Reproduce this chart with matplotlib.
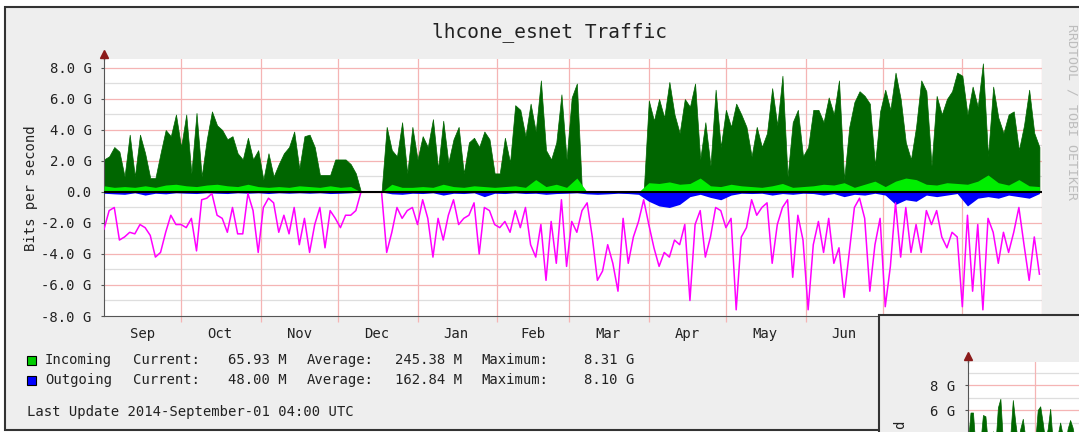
import numpy as np
import matplotlib
matplotlib.use('Agg')
import matplotlib.pyplot as plt
import matplotlib.dates as mdates
from matplotlib.patches import Rectangle

W, H = 1079, 432
MONO = 'DejaVu Sans Mono'
RED_GRID = '#f5b4b4'
GRAY_GRID = '#dedede'
TXT = '#222222'

# ---- data (Gbit/s) ----
start = np.datetime64('2013-09-01')
days2 = start + np.arange(0, 366, 2).astype('timedelta64[D]')   # 2-day steps
days4 = start + np.arange(0, 366, 4).astype('timedelta64[D]')   # 4-day steps

# incoming, peak (dark green area)
in_max = [2.1, 2.3, 2.9, 2.6, 1.0, 3.7, 1.0, 3.7, 2.5, 0.9,
          0.9, 2.5, 4.0, 3.6, 5.0, 2.9, 5.0, 1.2, 5.1, 1.0,
          3.4, 5.2, 4.3, 4.0, 3.4, 3.6, 2.5, 2.1, 3.5, 2.1,
          2.7, 0.8, 2.5, 1.0, 1.8, 2.5, 2.9, 3.9, 1.5, 3.6,
          3.7, 2.9, 1.1, 1.1, 1.1, 2.1, 2.1, 2.1, 1.8, 1.2,
          0, 0, 0, 0, 0, 4.2, 2.7, 2.3, 4.5, 1.2,
          4.2, 2.1, 3.6, 2.9, 4.7, 1.5, 4.6, 1.9, 3.4, 4.2,
          1.2, 3.2, 3.5, 2.9, 3.9, 3.4, 1.2, 1.2, 3.5, 1.9,
          5.6, 5.3, 3.6, 5.7, 3.9, 7.2, 2.7, 2.1, 3.2, 6.3,
          2.1, 6.1, 7.0, 0, 0, 0, 0, 0, 0, 0,
          0, 0, 0, 0, 0, 0, 5.9, 4.6, 6.0, 4.8,
          7.1, 5.0, 3.8, 6.0, 5.5, 7.0, 2.1, 4.5, 1.7, 6.6,
          2.9, 5.3, 4.2, 5.7, 5.0, 4.2, 2.3, 4.2, 2.9, 3.8,
          6.7, 4.3, 7.5, 1.0, 4.5, 5.3, 2.3, 2.9, 5.3, 5.3,
          4.5, 6.1, 5.0, 7.2, 0.8, 4.2, 5.8, 6.5, 6.2, 5.7,
          1.7, 5.2, 6.6, 5.3, 7.7, 6.0, 3.2, 2.1, 4.2, 7.2,
          6.5, 1.7, 6.2, 5.0, 6.0, 6.5, 7.7, 7.5, 5.0, 6.8,
          5.5, 8.3, 2.3, 6.8, 4.8, 3.8, 5.0, 5.2, 2.7, 4.3,
          6.6, 3.8, 2.9]

# outgoing, peak (magenta line, drawn negative)
out_max = [-2.4, -1.2, -1.0, -3.1, -2.9, -2.6, -2.7, -2.1, -2.3, -2.8,
           -4.2, -3.9, -2.6, -1.5, -2.1, -2.1, -2.3, -1.7, -3.8, -0.5,
           -0.4, -0.1, -1.5, -1.7, -2.6, -1.0, -2.7, -2.7, -0.1, -1.2,
           -3.9, -1.0, -0.4, -0.7, -2.6, -1.5, -2.7, -1.0, -3.4, -1.7,
           -3.9, -2.1, -1.0, -3.6, -1.2, -1.7, -2.3, -1.5, -1.5, -1.2,
           0, 0, 0, 0, 0, -3.9, -2.6, -1.0, -1.7, -1.2,
           -1.0, -2.1, -0.5, -1.7, -4.2, -1.7, -3.1, -1.5, -0.5, -2.1,
           -1.7, -1.5, -0.7, -4.0, -1.0, -1.2, -2.1, -2.3, -1.9, -2.6,
           -1.2, -2.3, -1.0, -3.4, -4.2, -2.1, -5.7, -1.9, -4.6, -0.5,
           -4.8, -1.9, -2.6, -1.2, -0.7, -2.9, -5.7, -5.1, -3.4, -4.6,
           -6.4, -1.7, -4.6, -2.9, -1.9, -0.5, -2.1, -3.6, -4.8, -3.9,
           -4.2, -3.1, -3.4, -2.1, -7.0, -2.1, -1.2, -4.2, -2.9, -1.0,
           -1.2, -2.3, -1.7, -7.6, -2.9, -2.3, -0.5, -1.5, -1.0, -0.7,
           -4.6, -2.1, -1.0, -0.5, -5.5, -1.5, -3.1, -7.6, -3.4, -1.9,
           -3.9, -1.7, -4.6, -3.6, -6.8, -3.9, -1.0, -0.4, -1.7, -6.4,
           -3.4, -1.7, -7.4, -4.8, -0.7, -4.2, -1.0, -3.9, -2.1, -3.9,
           -1.2, -2.1, -1.2, -2.9, -3.6, -2.6, -2.9, -7.4, -1.5, -6.4,
           -2.1, -7.6, -1.7, -2.6, -4.6, -2.6, -3.9, -2.6, -1.0, -3.4,
           -5.7, -2.9, -5.3]

# incoming, average (bright green area)
in_avg = [0.4, 0.3, 0.35, 0.3, 0.4, 0.3, 0.45, 0.5, 0.4, 0.35,
          0.45, 0.5, 0.4, 0.35, 0.5, 0.35, 0.3, 0.35, 0.3, 0.4,
          0.35, 0.3, 0.4, 0.3, 0.35, 0, 0, 0, 0.5, 0.3,
          0.3, 0.35, 0.3, 0.5, 0.35, 0.3, 0.4, 0.35, 0.3, 0.35,
          0.4, 0.3, 0.8, 0.35, 0.5, 0.3, 0.9, 0, 0, 0,
          0, 0, 0, 0.6, 0.55, 0.65, 0.5, 0.55, 0.9, 0.4,
          0.35, 0.5, 0.4, 0.35, 0.3, 0.4, 0.55, 0.3, 0.35, 0.4,
          0.5, 0.45, 0.6, 0.3, 0.5, 0.7, 0.35, 0.7, 0.9, 0.8,
          0.5, 0.45, 0.6, 0.55, 0.5, 0.7, 1.1, 0.6, 0.45, 0.8,
          0.4, 0.35]

# outgoing, average (blue area, negative)
out_avg = [-0.08, -0.12, -0.15, -0.05, -0.2, -0.08, -0.12, -0.05, -0.08, -0.1,
           -0.05, -0.08, -0.1, -0.05, -0.08, -0.05, -0.1, -0.05, -0.08, -0.05,
           -0.08, -0.05, -0.1, -0.08, -0.05, 0, 0, 0, -0.12, -0.15,
           -0.08, -0.1, -0.05, -0.2, -0.08, -0.1, -0.05, -0.3, -0.08, -0.1,
           -0.05, -0.1, -0.08, -0.15, -0.1, -0.08, -0.05, -0.12, -0.15, -0.12,
           -0.08, -0.1, -0.15, -0.6, -0.9, -1.0, -0.8, -0.3, -0.15, -0.35,
           -0.5, -0.2, -0.08, -0.1, -0.08, -0.2, -0.1, -0.15, -0.08, -0.1,
           -0.2, -0.1, -0.3, -0.15, -0.2, -0.08, -0.2, -0.8, -0.5, -0.6,
           -0.2, -0.3, -0.2, -0.1, -0.9, -0.4, -0.3, -0.4, -0.2, -0.3,
           -0.4, -0.1]

month_labels = ['Sep', 'Oct', 'Nov', 'Dec', 'Jan', 'Feb', 'Mar',
                'Apr', 'May', 'Jun', 'Jul', 'Aug']
y_ticks = [8, 6, 4, 2, 0, -2, -4, -6, -8]
y_tick_labels = ['8.0 G', '6.0 G', '4.0 G', '2.0 G', '0.0',
                 '-2.0 G', '-4.0 G', '-6.0 G', '-8.0 G']

legend_rows = [
    ('Incoming', '#00cc00', '65.93 M', '245.38 M', '8.31 G'),
    ('Outgoing', '#0000ff', '48.00 M', '162.84 M', '8.10 G'),
]

# second graph peeking in at the bottom right corner
inset_steps = np.arange(46)
inset_vals = [3.5, 5.8, 5.8, 3.0, 3.0, 3.5, 5.6, 5.5, 3.2, 3.0,
              4.3, 3.2, 6.2, 6.9, 3.5, 3.0, 3.0, 4.0, 6.8, 5.0,
              3.5, 4.5, 5.3, 3.8, 3.0, 3.5, 3.0, 3.5, 6.0, 6.3,
              5.0, 3.5, 4.5, 6.1, 3.5, 3.0, 4.0, 5.0, 4.0, 3.0,
              4.5, 5.2, 4.6, 3.5, 3.8, 4.0]


def fx(x):
    return x / W


def fy(y):
    return 1 - y / H


fig = plt.figure(figsize=(W / 100, H / 100), dpi=100)
fig.patch.set_facecolor('white')

# rrd canvas
fig.add_artist(Rectangle((fx(5), fy(430)), fx(1095) - fx(5), fy(7) - fy(430),
                         transform=fig.transFigure, facecolor='#eeeeee',
                         edgecolor='#333333', lw=1.5, zorder=-1))

ax = fig.add_axes([fx(104), fy(316), (1042 - 104) / W, (316 - 59) / H])
ax.set_facecolor('white')

ax.fill_between(days2, 0, in_max, color='#006600', lw=0.5, zorder=2)
ax.fill_between(days4, 0, in_avg, color='#00ee00', lw=0, zorder=3)
ax.fill_between(days4, 0, out_avg, color='#0000ff', lw=0, zorder=3)
ax.plot(days2, out_max, color='#ff00ff', lw=1.1, zorder=4)
ax.axhline(0, color='black', lw=1.5, zorder=5)

for v in range(-7, 9):
    ax.axhline(v, color=RED_GRID if v % 2 == 0 else GRAY_GRID, lw=0.9, zorder=1)

month_starts = np.arange('2013-09', '2014-10', dtype='datetime64[M]').astype('datetime64[D]')
month_mids = month_starts[:-1] + np.diff(month_starts) // 2
for d in month_starts[1:]:
    ax.axvline(d, color=RED_GRID, lw=0.9, zorder=1)

ax.set_xlim(month_starts[0], month_starts[-1])
ax.set_ylim(-8, 8.58)

ax.set_xticks(mdates.date2num(month_starts[1:]))
ax.set_xticklabels([])
ax.tick_params(axis='x', which='major', length=4, color=RED_GRID, width=0.9)
ax.set_xticks(mdates.date2num(month_mids), labels=month_labels, minor=True)
ax.tick_params(axis='x', which='minor', length=0, pad=8, labelsize=10, labelcolor=TXT)
for lab in ax.get_xticklabels(minor=True):
    lab.set_family(MONO)

ax.set_yticks(y_ticks, labels=y_tick_labels)
ax.tick_params(axis='y', length=2, pad=7, labelsize=10, labelcolor=TXT, color='#555555')
for lab in ax.get_yticklabels():
    lab.set_family(MONO)

for s in ['top', 'right']:
    ax.spines[s].set_visible(False)
ax.spines['left'].set_color('#555555')
ax.spines['bottom'].set_color('#555555')
ax.plot([0, 0], [1, 1.025], transform=ax.transAxes, clip_on=False, color='#555555', lw=1)
ax.plot([0], [1.02], transform=ax.transAxes, clip_on=False, marker='^',
        color='#8b1a1a', markersize=5.5, zorder=6)

# texts
fig.text(fx(550), fy(32), 'lhcone_esnet Traffic', ha='center', va='center',
         fontsize=14, family=MONO, color=TXT)
fig.text(fx(31), fy(188), 'Bits per second', rotation=90, ha='center', va='center',
         fontsize=10, family=MONO, color=TXT)
fig.text(fx(1072), fy(112), 'RRDTOOL / TOBI OETIKER', rotation=-90, ha='center',
         va='center', fontsize=9.5, family=MONO, color='#bdbdbd')

for i, (name, col, cur, avg, mx) in enumerate(legend_rows):
    yc = 360 + 20 * i
    fig.add_artist(Rectangle((fx(27), fy(yc + 4.5)), 9 / W, 9 / H, transform=fig.transFigure,
                             facecolor=col, edgecolor='black', lw=0.8))
    kw = dict(va='center', fontsize=10, family=MONO, color=TXT)
    fig.text(fx(45), fy(yc), name, ha='left', **kw)
    fig.text(fx(133), fy(yc), 'Current:', ha='left', **kw)
    fig.text(fx(287), fy(yc), cur, ha='right', **kw)
    fig.text(fx(307), fy(yc), 'Average:', ha='left', **kw)
    fig.text(fx(462), fy(yc), avg, ha='right', **kw)
    fig.text(fx(481), fy(yc), 'Maximum:', ha='left', **kw)
    fig.text(fx(634), fy(yc), mx, ha='right', **kw)

fig.text(fx(27), fy(412), 'Last Update 2014-September-01 04:00 UTC', ha='left', va='center',
         fontsize=10, family=MONO, color=TXT)

# overlapping second graph (bottom right)
fig.add_artist(Rectangle((fx(879), fy(445)), fx(1100) - fx(879), fy(315) - fy(445),
                         transform=fig.transFigure, facecolor='#eeeeee',
                         edgecolor='#333333', lw=1.5, zorder=5))
ax2 = fig.add_axes([fx(968), fy(440), (1095 - 968) / W, (440 - 362) / H], zorder=6)
ax2.set_facecolor('white')
ax2.fill_between(inset_steps, 0, inset_vals, color='#006600', lw=0.5, zorder=2)
for v in [5, 7, 9]:
    ax2.axhline(v, color=GRAY_GRID, lw=0.9, zorder=1)
for v in [4, 6, 8]:
    ax2.axhline(v, color=RED_GRID, lw=0.9, zorder=1)
ax2.axvline(27, color=RED_GRID, lw=0.9, zorder=1)
ax2.set_xlim(0, 51)
ax2.set_ylim(3.6, 9.84)
ax2.set_xticks([])
ax2.set_yticks([8, 6], labels=['8 G', '6 G'])
ax2.tick_params(axis='y', length=2, pad=7, labelsize=10, labelcolor=TXT, color='#555555')
for lab in ax2.get_yticklabels():
    lab.set_family(MONO)
for s in ['top', 'right', 'bottom']:
    ax2.spines[s].set_visible(False)
ax2.spines['left'].set_color('#555555')
ax2.plot([0, 0], [1, 1.09], transform=ax2.transAxes, clip_on=False, color='#555555', lw=1)
ax2.plot([0], [1.08], transform=ax2.transAxes, clip_on=False, marker='^',
         color='#8b1a1a', markersize=5.5)
# only the last letter of the second graph's axis title is inside the frame
fig.text(fx(900), fy(425), 'd', rotation=90, ha='center', va='center',
         fontsize=10, family=MONO, color=TXT, zorder=7)

fig.savefig('out.png', dpi=100)
